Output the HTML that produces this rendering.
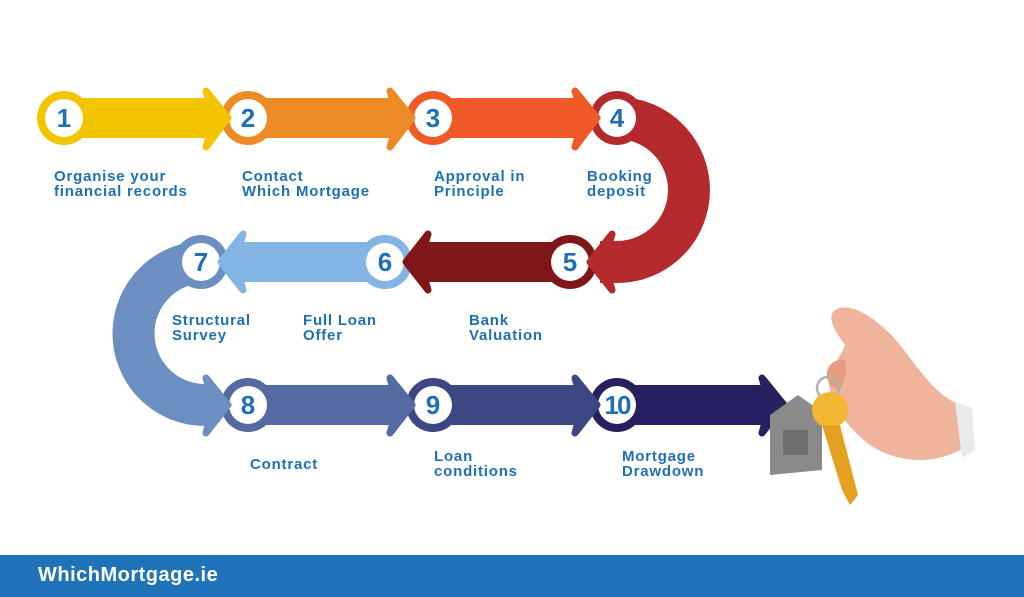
<!DOCTYPE html>
<html><head><meta charset="utf-8"><style>
html,body{margin:0;padding:0;background:#fff;width:1024px;height:597px;overflow:hidden;font-family:"Liberation Sans",sans-serif}
.l{position:absolute;color:#1f6fb5;font-weight:bold;font-size:15px;letter-spacing:0.8px;line-height:15px;white-space:nowrap}
.bar{position:absolute;left:0;top:555px;width:1024px;height:42px;background:#1f74b9}
.bar span{position:absolute;left:38px;top:9px;color:#fff;font-weight:bold;font-size:20px;letter-spacing:0.5px}
</style></head><body>
<svg width="1024" height="597" style="position:absolute;left:0;top:0">
<path d="M617,118 A72,72 0 0 1 617,262 L600,262" fill="none" stroke="#b52a2d" stroke-width="42"/>
<path d="M205,262 A71.5,71.5 0 0 0 205,405 L215,405" fill="none" stroke="#6a8fc0" stroke-width="42"/>
<rect x="64" y="98" width="150" height="40" fill="#f2c500"/>
<rect x="248" y="98" width="150" height="40" fill="#ec8b26"/>
<rect x="433" y="98" width="150" height="40" fill="#f05a28"/>
<rect x="420" y="242" width="150" height="40" fill="#7f1618"/>
<rect x="232" y="242" width="153" height="40" fill="#82b5e3"/>
<rect x="248" y="385" width="150" height="40" fill="#5569a3"/>
<rect x="433" y="385" width="150" height="40" fill="#3d4784"/>
<rect x="617" y="385" width="155" height="40" fill="#262060"/>
<g font-weight="bold" font-size="26" text-anchor="middle" fill="#1f6fb5" font-family="Liberation Sans,sans-serif">
<circle cx="64" cy="118" r="27" fill="#f2c500"/><circle cx="64" cy="118" r="19" fill="#fff"/><text x="64" y="127">1</text>
<circle cx="248" cy="118" r="27" fill="#ec8b26"/><circle cx="248" cy="118" r="19" fill="#fff"/><text x="248" y="127">2</text>
<circle cx="433" cy="118" r="27" fill="#f05a28"/><circle cx="433" cy="118" r="19" fill="#fff"/><text x="433" y="127">3</text>
<circle cx="617" cy="118" r="27" fill="#b52a2d"/><circle cx="617" cy="118" r="19" fill="#fff"/><text x="617" y="127">4</text>
<circle cx="570" cy="262" r="27" fill="#7f1618"/><circle cx="570" cy="262" r="19" fill="#fff"/><text x="570" y="271">5</text>
<circle cx="385" cy="262" r="27" fill="#82b5e3"/><circle cx="385" cy="262" r="19" fill="#fff"/><text x="385" y="271">6</text>
<circle cx="201" cy="262" r="27" fill="#6a8fc0"/><circle cx="201" cy="262" r="19" fill="#fff"/><text x="201" y="271">7</text>
<circle cx="248" cy="405" r="27" fill="#5569a3"/><circle cx="248" cy="405" r="19" fill="#fff"/><text x="248" y="414">8</text>
<circle cx="433" cy="405" r="27" fill="#3d4784"/><circle cx="433" cy="405" r="19" fill="#fff"/><text x="433" y="414">9</text>
<circle cx="617" cy="405" r="27" fill="#262060"/><circle cx="617" cy="405" r="19" fill="#fff"/><text x="617" y="414" letter-spacing="-2">10</text>
</g>
<g stroke-linejoin="round" stroke-width="7">
<polygon points="206,91 228,118 206,147 214,118" fill="#f2c500" stroke="#f2c500"/>
<polygon points="390,91 412,118 390,147 398,118" fill="#ec8b26" stroke="#ec8b26"/>
<polygon points="575,91 597,118 575,147 583,118" fill="#f05a28" stroke="#f05a28"/>
<polygon points="206,378 228,405 206,433 214,405" fill="#6a8fc0" stroke="#6a8fc0"/>
<polygon points="390,378 412,405 390,433 398,405" fill="#5569a3" stroke="#5569a3"/>
<polygon points="575,378 597,405 575,433 583,405" fill="#3d4784" stroke="#3d4784"/>
<polygon points="762,378 784,405 762,433 770,405" fill="#262060" stroke="#262060"/>
<polygon points="612,234 590,262 612,290 604,262" fill="#b52a2d" stroke="#b52a2d"/>
<polygon points="428,234 406,262 428,290 420,262" fill="#7f1618" stroke="#7f1618"/>
<polygon points="243,234 221,262 243,290 235,262" fill="#82b5e3" stroke="#82b5e3"/>
</g>
<path d="M835,310 C850,300 880,320 900,345 C920,370 935,395 960,405 L968,445 C940,465 900,465 870,445 C850,430 835,410 830,390 C825,370 840,360 845,345 C838,335 825,318 835,310Z" fill="#f0b49a"/>
<path d="M830,385 C822,372 830,358 845,360 C848,370 845,380 840,390Z" fill="#e79c80"/>
<path d="M955,402 L972,408 L975,450 L962,458 Z" fill="#e8eaee"/>
<circle cx="828" cy="388" r="11" fill="none" stroke="#b0b0b0" stroke-width="2.5"/>
<path d="M770,415 L798,395 L822,412 L822,470 L770,475 Z" fill="#8a8a8a"/>
<rect x="783" y="430" width="25" height="25" fill="#6f6f6f"/>
<circle cx="830" cy="410" r="18" fill="#f2b630"/>
<path d="M822,425 L840,425 L858,495 L850,505 L842,490 Z" fill="#e5a020"/>
</svg>
<div class="l" style="left:54px;top:169px">Organise your<br>financial records</div>
<div class="l" style="left:242px;top:169px">Contact<br>Which Mortgage</div>
<div class="l" style="left:434px;top:169px">Approval in<br>Principle</div>
<div class="l" style="left:587px;top:169px">Booking<br>deposit</div>
<div class="l" style="left:172px;top:313px">Structural<br>Survey</div>
<div class="l" style="left:303px;top:313px">Full Loan<br>Offer</div>
<div class="l" style="left:469px;top:313px">Bank<br>Valuation</div>
<div class="l" style="left:250px;top:457px">Contract</div>
<div class="l" style="left:434px;top:449px">Loan<br>conditions</div>
<div class="l" style="left:622px;top:449px">Mortgage<br>Drawdown</div>
<div class="bar"><span>WhichMortgage.ie</span></div>
</body></html>
